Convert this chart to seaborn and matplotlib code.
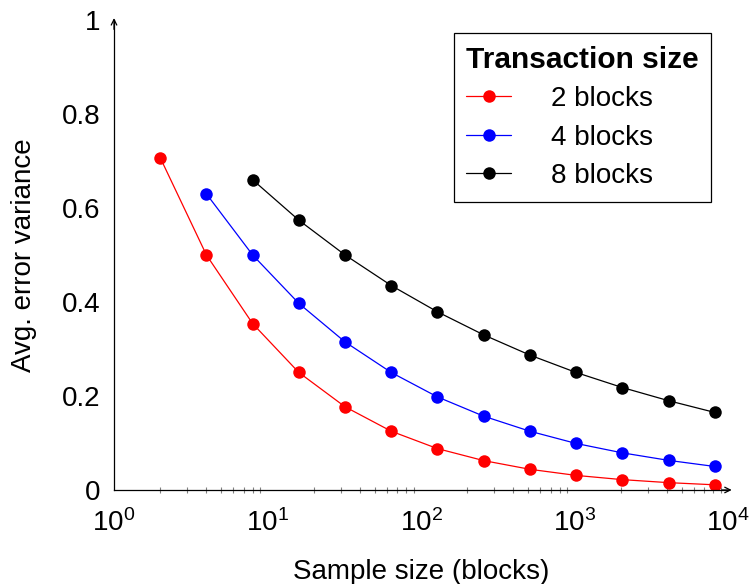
import matplotlib
matplotlib.use("Agg")
import matplotlib.pyplot as plt
import seaborn as sns
import pandas as pd

# Sample sizes (blocks) for each transaction size
x_2 = [2, 4, 8, 16, 32, 64, 128, 256, 512, 1024, 2048, 4096, 8192]
y_2 = [0.707, 0.500, 0.354, 0.250, 0.177, 0.125, 0.088, 0.0625, 0.044, 0.031, 0.022, 0.0156, 0.011]

x_4 = [4, 8, 16, 32, 64, 128, 256, 512, 1024, 2048, 4096, 8192]
y_4 = [0.630, 0.500, 0.397, 0.315, 0.250, 0.198, 0.157, 0.125, 0.099, 0.079, 0.063, 0.050]

x_8 = [8, 16, 32, 64, 128, 256, 512, 1024, 2048, 4096, 8192]
y_8 = [0.660, 0.574, 0.500, 0.435, 0.379, 0.330, 0.287, 0.250, 0.218, 0.190, 0.165]

labels = ["2 blocks", "4 blocks", "8 blocks"]
colors = ["#ff0000", "#0000ff", "#000000"]

frames = []
for xs, ys, lab in zip([x_2, x_4, x_8], [y_2, y_4, y_8], labels):
    frames.append(pd.DataFrame({"sample": xs, "variance": ys, "size": lab}))
df = pd.concat(frames, ignore_index=True)

sns.set_style("white")
plt.rcParams["font.family"] = ["Liberation Sans", "DejaVu Sans"]
plt.rcParams["mathtext.fontset"] = "custom"
plt.rcParams["mathtext.rm"] = "Liberation Sans"
plt.rcParams["mathtext.default"] = "regular"
for key in ["text.color", "axes.labelcolor", "xtick.labelcolor", "ytick.labelcolor"]:
    plt.rcParams[key] = "black"

FS = 20

fig = plt.figure(figsize=(7.52, 5.84), dpi=100)
ax = fig.add_axes([0.1516, 0.161, 0.8165, 0.8048])

sns.lineplot(data=df, x="sample", y="variance", hue="size", palette=colors,
             marker="o", markersize=9, markeredgewidth=0, linewidth=0.9,
             ax=ax, legend=True)

ax.set_xscale("log")
ax.set_xlim(1, 1e4)
ax.set_ylim(0, 1)
ax.set_yticks([0, 0.2, 0.4, 0.6, 0.8, 1.0])
ax.set_yticklabels(["0", "0.2", "0.4", "0.6", "0.8", "1"])
ax.set_xticks([1, 10, 100, 1000, 10000])
ax.set_xticklabels([r"$10^{0}$", r"$10^{1}$", r"$10^{2}$", r"$10^{3}$", r"$10^{4}$"])

for s in ["top", "right"]:
    ax.spines[s].set_visible(False)
for s in ["left", "bottom"]:
    ax.spines[s].set_color("black")
    ax.spines[s].set_linewidth(0.9)

ax.tick_params(axis="both", which="major", direction="inout", length=9, width=0.8,
               color="#808080", labelsize=FS, pad=5)
ax.tick_params(axis="x", which="minor", direction="inout", length=5, width=0.8,
               color="#808080", bottom=True)
ax.tick_params(axis="x", which="major", pad=9)

# arrow heads at the ends of the axes
ax.annotate("", xy=(1.006, 0), xytext=(0.99, 0), xycoords="axes fraction",
            arrowprops=dict(arrowstyle="->", lw=0.9, color="black", shrinkA=0, shrinkB=0))
ax.annotate("", xy=(0, 1.004), xytext=(0, 0.98), xycoords="axes fraction",
            arrowprops=dict(arrowstyle="->", lw=0.9, color="black", shrinkA=0, shrinkB=0))

ax.set_xlabel("Sample size (blocks)", fontsize=FS, labelpad=16)
ax.set_ylabel("Avg. error variance", fontsize=FS, labelpad=18)

handles, labs = ax.get_legend_handles_labels()
leg = ax.legend(handles, labs, title="Transaction size", loc="upper right",
                bbox_to_anchor=(0.973, 0.972), fontsize=FS, title_fontsize=21.5,
                frameon=True, fancybox=False, edgecolor="black", framealpha=1,
                handlelength=1.6, handletextpad=1.45, borderpad=0.45,
                labelspacing=0.45, borderaxespad=0, alignment="left")
leg.get_title().set_fontweight("bold")
leg.get_frame().set_linewidth(0.9)

fig.savefig("out.png", dpi=100)
